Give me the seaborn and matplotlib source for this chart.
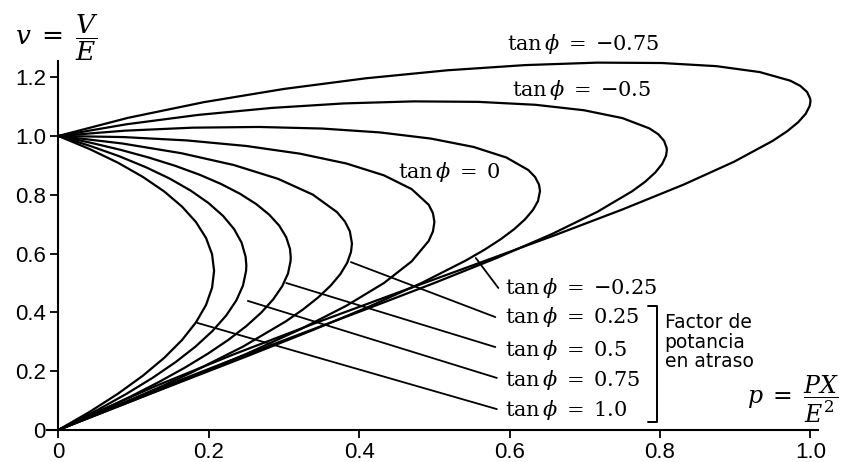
import matplotlib
matplotlib.use("Agg")
import matplotlib.pyplot as plt
import numpy as np
import pandas as pd
import seaborn as sns

# Nose curves v = V/E versus p = PX/E^2, one per load tan(phi)
tan_phi_values = ["-0.75", "-0.5", "-0.25", "0", "0.25", "0.5", "0.75", "1.0"]

p_m075 = [0, 0.0926, 0.1936, 0.3002, 0.4091, 0.5170, 0.6205, 0.7167, 0.8023, 0.8750,
          0.9325, 0.9732, 0.9867, 0.9955, 0.9996, 1.0, 0.9990, 0.9937, 0.9837, 0.9690,
          0.9497, 0.8983, 0.8312, 0.75, 0.6575, 0.5564, 0.4497, 0.3409, 0.2330, 0.1295,
          0.0334, 0]
v_m075 = [1.0, 1.0616, 1.1150, 1.1600, 1.1962, 1.2233, 1.2410, 1.2494, 1.2481, 1.2374,
          1.2173, 1.1880, 1.1699, 1.1495, 1.1270, 1.118, 1.1023, 1.0756, 1.0468, 1.0160,
          0.9832, 0.9122, 0.8344, 0.75, 0.6600, 0.5650, 0.4656, 0.3628, 0.2571, 0.1495,
          0.0408, 0]

p_m05 = [0, 0.0907, 0.1860, 0.2835, 0.3799, 0.4723, 0.5580, 0.6344, 0.6990, 0.7500,
         0.7858, 0.7978, 0.8054, 0.8088, 0.8090, 0.8080, 0.8029, 0.7937, 0.7804, 0.7629,
         0.7165, 0.6559, 0.5831, 0.5, 0.4093, 0.3140, 0.2166, 0.1202, 0.0277, 0]
v_m05 = [1.0, 1.0398, 1.0716, 1.0953, 1.1107, 1.1176, 1.1160, 1.1060, 1.0874, 1.0607,
         1.0258, 1.0055, 0.9832, 0.9590, 0.9510, 0.9330, 0.9052, 0.8758, 0.8447, 0.8119,
         0.7418, 0.6660, 0.5853, 0.5, 0.4109, 0.3188, 0.2242, 0.1279, 0.0306, 0]

p_m025 = [0, 0.0888, 0.1785, 0.2667, 0.3506, 0.4277, 0.4955, 0.5521, 0.5957, 0.6250,
          0.6340, 0.6391, 0.6404, 0.6377, 0.6310, 0.6205, 0.6063, 0.5884, 0.5670, 0.5421,
          0.4832, 0.4134, 0.3350, 0.25, 0.1613, 0.0715, 0]
v_m025 = [1.0, 1.0180, 1.0282, 1.0306, 1.0252, 1.0120, 0.9910, 0.9626, 0.9267, 0.8839,
          0.8599, 0.8343, 0.8125, 0.7784, 0.7482, 0.7165, 0.6835, 0.6492, 0.6137, 0.5769,
          0.5003, 0.4198, 0.3363, 0.25, 0.1619, 0.0726, 0]

p_0 = [0, 0.0868, 0.1710, 0.25, 0.3214, 0.3830, 0.4330, 0.4698, 0.4924, 0.4981, 0.5,
       0.4981, 0.4924, 0.4698, 0.4330, 0.3830, 0.3214, 0.25, 0.1710, 0.0868, 0]
v_0 = [1.0, 0.9962, 0.9848, 0.9659, 0.9397, 0.9063, 0.8660, 0.8192, 0.7660, 0.7373, 0.7071,
       0.6756, 0.6428, 0.5736, 0.5, 0.4226, 0.3420, 0.2588, 0.1736, 0.0872, 0]

p_025 = [0, 0.0850, 0.1634, 0.2332, 0.2921, 0.3383, 0.3705, 0.3810, 0.3876, 0.3904,
         0.3891, 0.3840, 0.3750, 0.3622, 0.3457, 0.3256, 0.3021, 0.2455, 0.1776, 0.1401,
         0.1006, 0.0593, 0]
v_025 = [1.0, 0.9744, 0.9414, 0.9012, 0.8542, 0.8006, 0.7410, 0.7091, 0.6758, 0.6340,
         0.6053, 0.5684, 0.5303, 0.4913, 0.4513, 0.4104, 0.3688, 0.2835, 0.1960, 0.1517,
         0.1071, 0.0622, 0]

p_05 = [0, 0.0426, 0.0831, 0.1209, 0.1559, 0.1879, 0.2165, 0.2416, 0.2629, 0.2803,
        0.2937, 0.3029, 0.3080, 0.3090, 0.3088, 0.3054, 0.2977, 0.2858, 0.2699, 0.2500,
        0.2263, 0.1990, 0.1683, 0.1343, 0.0975, 0.0580, 0]
v_05 = [1.0, 0.9772, 0.9526, 0.9261, 0.8980, 0.8681, 0.8365, 0.8033, 0.7687, 0.7325,
        0.6950, 0.6561, 0.6160, 0.5880, 0.5747, 0.5324, 0.4890, 0.4446, 0.3995, 0.3535,
        0.3069, 0.2598, 0.2121, 0.1640, 0.1156, 0.0670, 0]

p_075 = [0, 0.0421, 0.0812, 0.1166, 0.1484, 0.1761, 0.1997, 0.2190, 0.2337, 0.2437,
         0.2490, 0.2500, 0.2496, 0.2455, 0.2366, 0.2231, 0.2050, 0.1825, 0.1558, 0.1250,
         0.0904, 0.0523, 0]
v_075 = [1.0, 0.9663, 0.9308, 0.8935, 0.8546, 0.8140, 0.7718, 0.7282, 0.6832, 0.6369,
         0.5893, 0.5590, 0.5407, 0.4910, 0.4404, 0.3890, 0.3368, 0.2839, 0.2306, 0.1768,
         0.1226, 0.0683, 0]

p_1 = [0, 0.0417, 0.0793, 0.1123, 0.1408, 0.1644, 0.1830, 0.1964, 0.2044, 0.2071,
       0.2044, 0.1964, 0.1830, 0.1645, 0.1409, 0.1124, 0.0792, 0.0417, 0]
v_1 = [1.0, 0.9554, 0.9090, 0.8609, 0.8112, 0.7599, 0.7071, 0.6530, 0.5977, 0.5412,
       0.4837, 0.4253, 0.3660, 0.3061, 0.2456, 0.1846, 0.1232, 0.0617, 0]

curves = {
    "-0.75": (p_m075, v_m075),
    "-0.5": (p_m05, v_m05),
    "-0.25": (p_m025, v_m025),
    "0": (p_0, v_0),
    "0.25": (p_025, v_025),
    "0.5": (p_05, v_05),
    "0.75": (p_075, v_075),
    "1.0": (p_1, v_1),
}

# Label anchor points (left edge, vertical centre) in data units
label_names = ["-0.75", "-0.5", "-0.25", "0", "0.25", "0.5", "0.75", "1.0"]
label_p = [0.597, 0.603, 0.594, 0.452, 0.594, 0.594, 0.594, 0.594]
label_v = [1.313, 1.156, 0.483, 0.878, 0.384, 0.272, 0.170, 0.068]

# Leader lines from a curve point to its label
leader_names = ["-0.25", "0.25", "0.5", "0.75", "1.0"]
leader_p0 = [0.555, 0.389, 0.303, 0.252, 0.185]
leader_v0 = [0.585, 0.571, 0.500, 0.439, 0.364]
leader_p1 = [0.585, 0.581, 0.581, 0.583, 0.583]
leader_v1 = [0.483, 0.384, 0.282, 0.177, 0.071]

x_ticks = [0, 0.2, 0.4, 0.6, 0.8, 1.0]
x_tick_labels = ["0", "0.2", "0.4", "0.6", "0.8", "1.0"]
y_ticks = [0, 0.2, 0.4, 0.6, 0.8, 1.0, 1.2]
y_tick_labels = ["0", "0.2", "0.4", "0.6", "0.8", "1.0", "1.2"]

rows = []
for name, (ps, vs) in curves.items():
    for i, (p, v) in enumerate(zip(ps, vs)):
        rows.append({"curve": name, "idx": i, "p": p, "v": v})
df = pd.DataFrame(rows)

sns.set_style("ticks")
plt.rcParams["font.family"] = ["Liberation Sans", "DejaVu Sans"]
plt.rcParams["mathtext.fontset"] = "dejavuserif"
plt.rcParams["text.color"] = "black"

fig = plt.figure(figsize=(8.46, 4.62), dpi=100)
ax = fig.add_axes([0.0556, 0.0693, 0.9113, 0.7987])

sns.lineplot(data=df, x="p", y="v", units="curve", estimator=None, sort=False,
             color="black", linewidth=1.6, ax=ax, legend=False)
for ln in ax.lines:
    ln.set_clip_on(False)
    ln.set_solid_joinstyle("round")

for a, b, c, d in zip(leader_p0, leader_v0, leader_p1, leader_v1):
    ax.plot([a, c], [b, d], color="black", linewidth=1.3, clip_on=False)

for name, lp, lv in zip(label_names, label_p, label_v):
    val = "{-}" + name[1:] if name.startswith("-") else name
    ax.text(lp, lv, r"$\mathrm{tan}\,\phi\;=\;%s$" % val, ha="left", va="center",
            fontsize=15, color="black", clip_on=False)

# bracket grouping the lagging power-factor labels
ax.plot([0.7835, 0.7955, 0.7955, 0.7835], [0.422, 0.422, 0.027, 0.027],
        color="black", linewidth=1.4, clip_on=False)
ax.text(0.806, 0.398, "Factor de\npotancia\nen atraso", ha="left", va="top",
        fontsize=13.5, linespacing=1.05, color="black", family=["DejaVu Sans"])

# axis titles
ax.text(-0.057, 1.335, r"$v\;=\;\dfrac{V}{E}$", ha="left", va="center", fontsize=19,
        color="black", clip_on=False)
ax.text(0.916, 0.105, r"$p\;=\;\dfrac{PX}{E^2}$", ha="left", va="center", fontsize=17,
        color="black", clip_on=False)

ax.set_xlim(-0.015, 1.01)
ax.set_ylim(0, 1.255)
ax.spines["right"].set_visible(False)
ax.spines["top"].set_visible(False)
ax.spines["left"].set_position(("data", 0))
for s in ("left", "bottom"):
    ax.spines[s].set_linewidth(1.5)
    ax.spines[s].set_color("black")
ax.set_xticks(x_ticks)
ax.set_xticklabels(x_tick_labels)
ax.set_yticks(y_ticks)
ax.set_yticklabels(y_tick_labels)
ax.tick_params(direction="out", length=6, width=1.3, labelsize=16, pad=3,
               colors="black")
ax.set_xlabel("")
ax.set_ylabel("")

fig.savefig("out.png", dpi=100)
